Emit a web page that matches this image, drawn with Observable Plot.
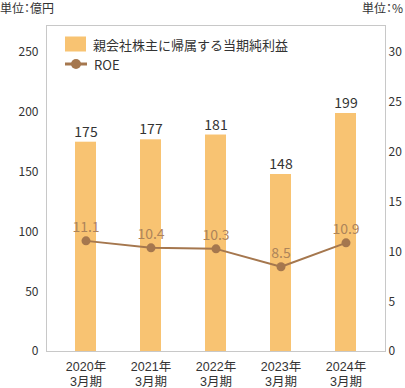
<!DOCTYPE html>
<html>
<head>
<meta charset="utf-8">
<script src="https://cdn.jsdelivr.net/npm/d3@7"></script>
<script src="https://cdn.jsdelivr.net/npm/@observablehq/plot@0.6"></script>
<style>
  html, body { margin: 0; padding: 0; background: #fff; }
  #wrap { position: relative; width: 405px; height: 388px; font-family: "Noto Sans CJK JP", "Noto Sans", sans-serif; color: #333; }
  #units { position: absolute; left: 0; top: 0; width: 403px; display: flex; justify-content: space-between; font-size: 12px; line-height: 16px; font-feature-settings: "palt"; }
  #legend { position: absolute; left: 65px; top: 34px; font-size: 13px; }
  .li { display: flex; align-items: center; height: 20px; margin-bottom: 0px; }
  .li svg { margin-right: 7px; }
</style>
</head>
<body>
<div id="wrap">
  <div id="units"><span id="uL"></span><span id="uR"></span></div>
  <div id="legend"></div>
</div>
<script>
const years = ["2020", "2021", "2022", "2023", "2024"];
const profit = [175, 177, 181, 148, 199];
const roe = [11.1, 10.4, 10.3, 8.5, 10.9];
const leftTicks = [0, 50, 100, 150, 200, 250];
const rightTicks = [0, 5, 10, 15, 20, 25, 30];
const yearSuffix = "年";
const periodLabel = "3月期";
const seriesNames = ["親会社株主に帰属する当期純利益", "ROE"];
const unitLeft = "単位：億円";
const unitRight = "単位：%";

const barColor = "#f8c372";
const lineColor = "#a5774e";
const roeLabelColor = "#ad845a";
const tickFont = '"Liberation Sans", "Noto Sans CJK JP", sans-serif';

const data = years.map((y, i) => ({year: y, profit: profit[i], roe: roe[i]}));
// ROE (0–30%) shares the left axis range (0–250億円)
const toY = d3.scaleLinear().domain([0, 30]).range([0, 250]);

document.getElementById("uL").textContent = unitLeft;
document.getElementById("uR").textContent = unitRight;

const legend = document.getElementById("legend");
legend.innerHTML =
  `<div class="li"><svg width="21" height="16"><rect width="21" height="15" y="0.5" fill="${barColor}"/></svg><span>${seriesNames[0]}</span></div>` +
  `<div class="li"><svg width="22" height="12"><line x1="0" x2="22" y1="6" y2="6" stroke="${lineColor}" stroke-width="3"/><circle cx="11" cy="6" r="5" fill="${lineColor}"/></svg><span>${seriesNames[1]}</span></div>`;

const chart = Plot.plot({
  width: 405,
  height: 388,
  marginTop: 25,
  marginBottom: 37,
  marginLeft: 46,
  marginRight: 20,
  style: {fontFamily: '"Noto Sans CJK JP", "Noto Sans", sans-serif', color: "#333", background: "transparent"},
  x: {type: "band", domain: years, range: [51.2, 380.2], paddingInner: 0.681, paddingOuter: 0.3405, axis: null},
  y: {domain: [0, 250], range: [351, 52]},
  marks: [
    Plot.frame({stroke: "#c8c8c8"}),
    Plot.barY(data, {x: "year", y: "profit", fill: barColor}),
    Plot.text(data, {x: "year", y: "profit", text: d => String(d.profit), dy: -10, fontSize: 14, fill: "#333"}),
    Plot.line(data, {x: "year", y: d => toY(d.roe), stroke: lineColor, strokeWidth: 2}),
    Plot.dot(data, {x: "year", y: d => toY(d.roe), r: 4.5, fill: lineColor}),
    Plot.text(data, {x: "year", y: d => toY(d.roe), text: d => d.roe.toFixed(1), dy: -13, fontSize: 14, fill: roeLabelColor}),
    Plot.axisY(leftTicks, {anchor: "left", tickSize: 0, tickPadding: 8, fontSize: 12, label: null}),
    Plot.axisY(rightTicks.map(t => toY(t)), {anchor: "right", tickSize: 0, tickPadding: 3, fontSize: 12, label: null, tickFormat: d => String(Math.round(toY.invert(d)))}),
    Plot.text(data, {x: "year", frameAnchor: "bottom", lineAnchor: "middle", dy: 15.5, fontSize: 12.5, fontFamily: tickFont, fill: "#333", text: d => `${d.year}${yearSuffix}`}),
    Plot.text(data, {x: "year", frameAnchor: "bottom", lineAnchor: "middle", dy: 30, fontSize: 12.5, fontFamily: tickFont, fill: "#333", text: () => periodLabel})
  ]
});
chart.style.position = "absolute";
chart.style.left = "0";
chart.style.top = "0";
document.getElementById("wrap").prepend(chart);
</script>
</body>
</html>
